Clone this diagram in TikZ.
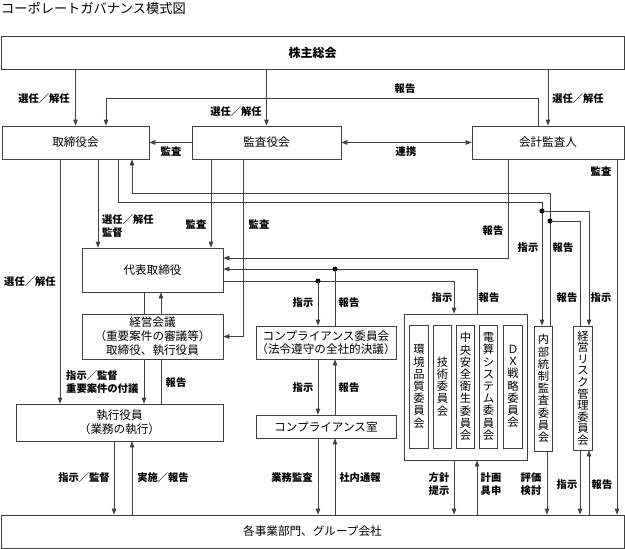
\documentclass[tikz,border=0pt]{standalone}
\usepackage{fontspec}
\setmainfont{Noto Sans CJK JP}
\usetikzlibrary{arrows.meta}

\begin{document}
\begin{tikzpicture}[x=1pt, y=-1pt,
  box/.style={draw=black!75, line width=0.7pt, inner sep=0pt, align=center, font=\fontsize{11.6}{14}\selectfont},
  tate/.style={draw=black!75, line width=0.7pt, inner sep=0pt, minimum width=18.5pt, align=center, font=\fontsize{11.3}{12.2}\selectfont},
  lbl/.style={inner sep=0pt, font=\fontsize{10.3}{12.5}\selectfont\bfseries},
  ln/.style={draw=black!75, line width=0.7pt},
  arr/.style={ln, -{Triangle[length=6pt,width=4.5pt]}},
  arr2/.style={ln, {Triangle[length=6pt,width=4.5pt]}-{Triangle[length=6pt,width=4.5pt]}},
  dot/.style={circle, fill=black, inner sep=0pt, minimum size=5pt}]
\useasboundingbox (0,0) rectangle (625,549);

% タイトル
\node[anchor=west, inner sep=0pt, font=\fontsize{13.2}{15}\selectfont] (title) at (1,8) {コーポレートガバナンス模式図};

% 機関の箱
\node[box, minimum width=623, minimum height=33, font=\fontsize{12}{14}\selectfont\bfseries] (kabunushi) at (312.5,52.5) {株主総会};
\node[box, minimum width=147, minimum height=33] (torishimari) at (75.5,142.5) {取締役会};
\node[box, minimum width=149, minimum height=33] (kansayaku) at (266.5,142.5) {監査役会};
\node[box, minimum width=152, minimum height=33] (kaikei) at (548,142.5) {会計監査人};
\node[box, minimum width=141, minimum height=44] (daihyo) at (152.5,270) {代表取締役};
\node[box, minimum width=141, minimum height=45] (keiei) at (152.5,336.5) {経営会議\\（重要案件の審議等）\\取締役、執行役員};
\node[box, minimum width=207, minimum height=37] (shikko) at (119.5,422.5) {執行役員\\（業務の執行）};
\node[box, minimum width=140, minimum height=33, font=\fontsize{11.6}{13}\selectfont] (cc) at (326,342.5) {コンプライアンス委員会\\（法令遵守の全社的決議）};
\node[box, minimum width=140, minimum height=23] (cr) at (326,426.5) {コンプライアンス室};
\node[box, minimum width=623, minimum height=33] (jigyo) at (312.5,531.5) {各事業部門、グループ会社};

% 委員会（縦書き）
\node[box, minimum width=123, minimum height=146] (iinkaigun) at (465.5,387) {};
\node[tate, minimum height=123] (kankyo) at (419,386.5) {環\\境\\品\\質\\委\\員\\会};
\node[tate, minimum height=123] (gijutsu) at (442.5,386.5) {技\\術\\委\\員\\会};
\node[tate, minimum height=123] (anzen) at (465.5,386.5) {中\\央\\安\\全\\衛\\生\\委\\員\\会};
\node[tate, minimum height=123] (densan) at (488.5,386.5) {電\\算\\シ\\ス\\テ\\ム\\委\\員\\会};
\node[tate, minimum height=123] (dx) at (513,386.5) {Ｄ\\Ｘ\\戦\\略\\委\\員\\会};
\node[tate, minimum height=125] (naibu) at (543.5,388.5) {内\\部\\統\\制\\監\\査\\委\\員\\会};
\node[tate, minimum height=124, font=\fontsize{11.3}{11.6}\selectfont] (risk) at (583,388) {経\\営\\リ\\ス\\ク\\管\\理\\委\\員\\会};

% 線の通り道
\coordinate (v60) at (60,0);   \coordinate (v98) at (98,0);   \coordinate (v106) at (106,0);
\coordinate (v114) at (114,0); \coordinate (v118) at (118,0); \coordinate (v132) at (132,0);
\coordinate (v144) at (144,0); \coordinate (v161) at (161,0); \coordinate (v211) at (211,0);
\coordinate (v243) at (243,0); \coordinate (v318) at (318,0); \coordinate (v335) at (335,0);
\coordinate (v454) at (454,0); \coordinate (v477) at (477,0); \coordinate (v508) at (508,0);
\coordinate (v538) at (538,0); \coordinate (v542) at (542,0); \coordinate (v547) at (547,0);
\coordinate (v550) at (550,0); \coordinate (v580) at (580,0); \coordinate (v589) at (589,0);
\coordinate (v617) at (617,0);
\coordinate (h98) at (0,98);   \coordinate (h193) at (0,193); \coordinate (h202) at (0,202);
\coordinate (h211) at (0,211); \coordinate (h221) at (0,221); \coordinate (h258) at (0,258);
\coordinate (h269) at (0,269); \coordinate (h281) at (0,281);

% 株主総会から
\draw[arr] (kabunushi.south -| torishimari) -- (torishimari);
\draw[arr] (kabunushi.south -| kansayaku) -- (kansayaku);
\draw[arr] (kabunushi.south -| kaikei) -- (kaikei);

% 取締役会・監査役会・会計監査人
\draw[arr] (kaikei.north -| v538) |- (v106 |- h98) -- (torishimari.north -| v106);
\draw[arr] (kansayaku.west) -- (torishimari.east);
\draw[arr2] (kansayaku.east) -- (kaikei.west);

% 取締役会から下へ
\draw[arr] (torishimari.south -| v60) -- (shikko.north -| v60);
\draw[arr] (torishimari.south -| v98) -- (daihyo.north -| v98);
\draw[arr] (torishimari.south -| v118) |- (v542 |- h202) -- (naibu.north -| v542);
\draw[arr] (naibu.north -| v550) |- (v132 |- h193) -- (torishimari.south -| v132);
\node[dot] (d1) at (v542 |- h211) {};
\draw[arr] (d1.center) -| (risk.north -| v589);
\node[dot] (d2) at (v550 |- h221) {};
\draw[ln] (risk.north -| v580) |- (d2.center);

% 監査役会から
\draw[arr] (kansayaku.south -| v211) -- (daihyo.north -| v211);
\draw[arr] (kansayaku.south -| v243) |- (keiei.east);

% 代表取締役の右側
\draw[arr] (kaikei.south -| v508) |- (daihyo.east |- h258);
\draw[arr] (iinkaigun.north -| v477) |- (daihyo.east |- h269);
\node[dot] (d3) at (v335 |- h269) {};
\draw[ln] (cc.north -| v335) -- (d3.center);
\draw[arr] (daihyo.east |- h281) -| (iinkaigun.north -| v454);
\node[dot] (d4) at (v318 |- h281) {};
\draw[arr] (d4.center) -- (cc.north -| v318);

% 代表取締役・経営会議・執行役員
\draw[ln] (daihyo.south -| v144) -- (keiei.north -| v144);
\draw[arr] (keiei.south -| v144) -- (shikko.north -| v144);
\draw[arr] (keiei.north -| v161) -- (daihyo.south -| v161);
\draw[ln] (shikko.north -| v161) -- (keiei.south -| v161);

% コンプライアンス
\draw[arr] (cc.south -| v318) -- (cr.north -| v318);
\draw[arr] (cr.north -| v335) -- (cc.south -| v335);
\draw[arr] (cr.south -| v318) -- (jigyo.north -| v318);
\draw[arr] (jigyo.north -| v335) -- (cr.south -| v335);

% 各事業部門へ
\draw[arr] (shikko.south -| v114) -- (jigyo.north -| v114);
\draw[arr] (jigyo.north -| v132) -- (shikko.south -| v132);
\draw[arr] (iinkaigun.south -| v454) -- (jigyo.north -| v454);
\draw[arr] (jigyo.north -| v477) -- (iinkaigun.south -| v477);
\draw[arr] (naibu.south -| v547) -- (jigyo.north -| v547);
\draw[arr] (risk.south -| v580) -- (jigyo.north -| v580);
\draw[arr] (jigyo.north -| v589) -- (risk.south -| v589);
\draw[arr] (kaikei.south -| v617) -- (jigyo.north -| v617);

% ラベル
\node[lbl] (l1) at (44,99) {選任／解任};
\node[lbl] (l2) at (236,112) {選任／解任};
\node[lbl] (l3) at (578,99) {選任／解任};
\node[lbl] (l4) at (405,89) {報告};
\node[lbl] (l5) at (171,152) {監査};
\node[lbl] (l6) at (406,152) {連携};
\node[lbl] (l7) at (601,172) {監査};
\node[lbl, anchor=west, align=left] (l8) at (102,226) {選任／解任\\監督};
\node[lbl] (l9) at (196,225) {監査};
\node[lbl] (l10) at (259,225) {監査};
\node[lbl] (l11) at (493,231) {報告};
\node[lbl] (l12) at (528,248) {指示};
\node[lbl] (l13) at (563,248) {報告};
\node[lbl] (l14) at (30,282) {選任／解任};
\node[lbl] (l15) at (303,303) {指示};
\node[lbl] (l16) at (349,303) {報告};
\node[lbl] (l17) at (442,298) {指示};
\node[lbl] (l18) at (489,298) {報告};
\node[lbl] (l19) at (567,298) {報告};
\node[lbl] (l20) at (601,298) {指示};
\node[lbl, anchor=west, align=left] (l21) at (66,382) {指示／監督\\重要案件の付議};
\node[lbl] (l22) at (176,383) {報告};
\node[lbl] (l23) at (303,388) {指示};
\node[lbl] (l24) at (349,388) {報告};
\node[lbl] (l25) at (84,478) {指示／監督};
\node[lbl] (l26) at (163,478) {実施／報告};
\node[lbl] (l27) at (292,478) {業務監査};
\node[lbl] (l28) at (360,478) {社内通報};
\node[lbl, align=center] (l29) at (439,484) {方針\\提示};
\node[lbl, align=center] (l30) at (491,484) {計画\\具申};
\node[lbl, align=center] (l31) at (531,484) {評価\\検討};
\node[lbl] (l32) at (567,485) {指示};
\node[lbl] (l33) at (602,485) {報告};
\end{tikzpicture}
\end{document}
